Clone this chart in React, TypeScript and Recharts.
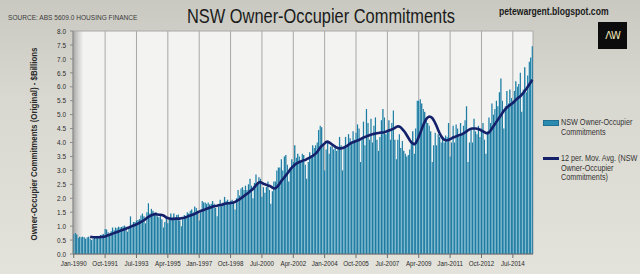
import React from "react";
import {
  ComposedChart,
  Bar,
  Line,
  XAxis,
  YAxis,
  CartesianGrid,
} from "recharts";

// NSW owner-occupier commitments, $bn, monthly Jan-1990 .. Aug-2015
const COMMITMENTS: number[] = [
  0.72, 0.75, 0.7, 0.58, 0.62, 0.6, 0.62, 0.6, 0.55, 0.6, 0.62, 0.55, // 1990
  0.5, 0.55, 0.62, 0.58, 0.65, 0.6, 0.68, 0.7, 0.72, 0.9, 0.88, 0.78, // 1991
  0.65, 0.82, 0.95, 0.85, 0.95, 0.92, 0.98, 0.95, 0.97, 1.0, 1.02, 0.98, // 1992
  0.8, 0.95, 1.35, 1.05, 1.15, 1.15, 1.2, 1.22, 1.25, 1.38, 1.45, 1.35, // 1993
  1.1, 1.5, 1.82, 1.45, 1.62, 1.55, 1.45, 1.5, 1.35, 1.32, 1.4, 1.25, // 1994
  0.95, 1.15, 1.3, 1.1, 1.3, 1.45, 1.25, 1.45, 1.25, 1.4, 1.42, 1.2, // 1995
  1.0, 1.25, 1.4, 1.35, 1.5, 1.45, 1.55, 1.6, 1.5, 1.7, 1.65, 1.55, // 1996
  1.2, 1.5, 1.9, 1.85, 1.85, 1.8, 1.85, 1.78, 1.8, 1.9, 1.8, 1.65, // 1997
  1.35, 1.7, 1.95, 1.75, 1.85, 2.05, 1.9, 1.95, 1.85, 1.9, 1.95, 1.85, // 1998
  1.6, 2.0, 2.3, 2.1, 2.35, 2.4, 2.3, 2.45, 2.3, 2.5, 2.7, 2.45, // 1999
  2.0, 2.55, 2.85, 2.5, 2.75, 2.7, 2.05, 2.4, 2.2, 2.4, 2.6, 2.3, // 2000
  1.8, 2.25, 2.6, 2.6, 3.0, 3.1, 3.1, 3.4, 3.0, 3.5, 3.55, 3.2, // 2001
  2.6, 3.1, 3.4, 3.3, 3.9, 3.45, 3.6, 3.5, 3.3, 3.6, 3.55, 3.2, // 2002
  2.7, 3.3, 3.65, 3.5, 3.9, 3.8, 3.9, 4.0, 4.45, 4.6, 4.55, 3.9, // 2003
  3.0, 3.75, 4.05, 3.6, 3.85, 3.9, 3.75, 3.9, 3.7, 3.8, 4.2, 3.9, // 2004
  3.0, 3.8, 4.2, 3.85, 4.3, 4.15, 4.0, 4.4, 4.1, 4.35, 4.65, 4.5, // 2005
  3.3, 4.2, 4.75, 3.9, 5.2, 4.7, 4.1, 4.85, 4.0, 4.6, 4.9, 4.1, // 2006
  3.7, 4.2, 4.8, 5.2, 4.9, 4.3, 4.4, 4.8, 4.1, 4.7, 5.15, 4.1, // 2007
  3.4, 4.1, 4.3, 3.8, 4.05, 3.7, 3.6, 3.5, 3.55, 3.75, 4.0, 4.4, // 2008
  3.6, 4.5, 5.5, 5.5, 5.55, 5.4, 5.2, 5.1, 4.8, 4.7, 4.6, 4.4, // 2009
  3.3, 3.9, 4.35, 3.9, 4.3, 4.2, 4.0, 4.2, 4.0, 4.25, 4.2, 4.7, // 2010
  3.5, 4.0, 4.6, 4.0, 4.65, 4.5, 4.2, 4.7, 4.3, 4.6, 4.8, 5.3, // 2011
  3.3, 4.0, 4.45, 4.0, 4.85, 4.4, 4.3, 4.6, 4.2, 4.5, 4.7, 4.1, // 2012
  3.6, 4.4, 4.9, 4.7, 5.4, 5.0, 5.2, 5.5, 5.3, 5.8, 6.3, 5.5, // 2013
  4.5, 5.3, 5.85, 5.4, 5.9, 5.6, 5.5, 5.85, 6.2, 6.0, 6.1, 6.5, // 2014
  5.1, 5.9, 6.7, 5.8, 6.4, 6.9, 7.05, 7.45, // 2015
];

// 12 period moving average (starts Dec-1990)
const MOVING_AVG: (number | null)[] = [
  null, null, null, null, null, null, null, null, null, null, null, 0.62, // 1990
  0.61, 0.6, 0.6, 0.6, 0.6, 0.6, 0.61, 0.61, 0.62, 0.63, 0.65, 0.67, // 1991
  0.69, 0.71, 0.73, 0.75, 0.77, 0.79, 0.81, 0.83, 0.85, 0.87, 0.89, 0.91, // 1992
  0.93, 0.95, 0.98, 1.0, 1.02, 1.04, 1.07, 1.09, 1.12, 1.15, 1.18, 1.21, // 1993
  1.25, 1.29, 1.33, 1.36, 1.39, 1.41, 1.43, 1.43, 1.42, 1.41, 1.41, 1.4, // 1994
  1.38, 1.35, 1.31, 1.29, 1.27, 1.26, 1.26, 1.26, 1.27, 1.27, 1.27, 1.27, // 1995
  1.28, 1.29, 1.3, 1.32, 1.34, 1.36, 1.38, 1.4, 1.42, 1.44, 1.47, 1.5, // 1996
  1.52, 1.54, 1.56, 1.58, 1.6, 1.62, 1.64, 1.66, 1.68, 1.7, 1.71, 1.72, // 1997
  1.73, 1.75, 1.76, 1.77, 1.78, 1.8, 1.81, 1.82, 1.82, 1.83, 1.84, 1.85, // 1998
  1.87, 1.9, 1.93, 1.96, 2.0, 2.04, 2.08, 2.12, 2.16, 2.2, 2.25, 2.29, // 1999
  2.33, 2.4, 2.46, 2.52, 2.57, 2.58, 2.55, 2.52, 2.5, 2.48, 2.46, 2.45, // 2000
  2.42, 2.38, 2.35, 2.36, 2.4, 2.46, 2.54, 2.62, 2.68, 2.75, 2.82, 2.89, // 2001
  2.96, 3.04, 3.1, 3.15, 3.2, 3.24, 3.27, 3.3, 3.32, 3.34, 3.36, 3.37, // 2002
  3.4, 3.43, 3.46, 3.49, 3.52, 3.56, 3.6, 3.66, 3.74, 3.82, 3.88, 3.92, // 2003
  3.97, 4.02, 4.03, 4.0, 3.97, 3.93, 3.89, 3.85, 3.82, 3.8, 3.79, 3.79, // 2004
  3.8, 3.82, 3.85, 3.88, 3.92, 3.96, 3.99, 4.01, 4.03, 4.05, 4.07, 4.09, // 2005
  4.12, 4.15, 4.18, 4.2, 4.22, 4.24, 4.26, 4.28, 4.3, 4.31, 4.32, 4.33, // 2006
  4.34, 4.35, 4.36, 4.36, 4.37, 4.39, 4.41, 4.43, 4.45, 4.47, 4.49, 4.52, // 2007
  4.56, 4.58, 4.57, 4.54, 4.48, 4.42, 4.35, 4.26, 4.17, 4.08, 4.01, 3.97, // 2008
  3.94, 3.98, 4.08, 4.2, 4.34, 4.48, 4.62, 4.74, 4.84, 4.9, 4.93, 4.92, // 2009
  4.88, 4.8, 4.7, 4.58, 4.45, 4.33, 4.23, 4.15, 4.1, 4.08, 4.08, 4.09, // 2010
  4.12, 4.15, 4.18, 4.2, 4.22, 4.24, 4.26, 4.28, 4.3, 4.33, 4.36, 4.4, // 2011
  4.44, 4.47, 4.49, 4.5, 4.5, 4.5, 4.49, 4.48, 4.46, 4.43, 4.4, 4.37, // 2012
  4.34, 4.33, 4.36, 4.42, 4.5, 4.58, 4.66, 4.74, 4.82, 4.9, 4.98, 5.06, // 2013
  5.14, 5.2, 5.26, 5.3, 5.34, 5.38, 5.42, 5.47, 5.53, 5.58, 5.62, 5.66, // 2014
  5.72, 5.78, 5.85, 5.92, 6.0, 6.08, 6.16, 6.25, // 2015
];

const MONTH_NAMES = ["Jan", "Feb", "Mar", "Apr", "May", "Jun", "Jul", "Aug", "Sep", "Oct", "Nov", "Dec"];
const FIRST_YEAR = 1990;
const Y_TICKS = [0, 0.5, 1, 1.5, 2, 2.5, 3, 3.5, 4, 4.5, 5, 5.5, 6, 6.5, 7, 7.5, 8];

const data = COMMITMENTS.map((v, i) => ({
  month: `${MONTH_NAMES[i % 12]}-${FIRST_YEAR + Math.floor(i / 12)}`,
  value: v,
  ma: MOVING_AVG[i],
}));

// no narrow font installed, so squeeze Liberation Sans horizontally
const FONT = "'Liberation Sans', Arial, sans-serif";
const SQUEEZE = 0.82;
const LINE_COLOR = "#14216a";

function XTick({ x, y, payload }: any) {
  return (
    <g transform={`translate(${x},${y}) scale(${SQUEEZE},1)`}>
      <text x={0} y={0} dy={6} textAnchor="middle" fontSize={7.6} fill="#2a2a2a" fontFamily={FONT}>
        {payload.value}
      </text>
    </g>
  );
}

function YTick({ x, y, payload }: any) {
  return (
    <g transform={`translate(${x},${y}) scale(${SQUEEZE},1)`}>
      <text x={0} y={0} dy={2.7} textAnchor="end" fontSize={7.8} fill="#2a2a2a" fontFamily={FONT}>
        {Number(payload.value).toFixed(1)}
      </text>
    </g>
  );
}

const squeezed = (extra: React.CSSProperties): React.CSSProperties => ({
  position: "absolute",
  whiteSpace: "nowrap",
  transform: `scaleX(${SQUEEZE})`,
  transformOrigin: "left top",
  ...extra,
});

export default function App() {
  return (
    <div
      style={{
        position: "absolute",
        left: 0,
        top: 0,
        width: 640,
        height: 274,
        overflow: "hidden",
        background: "linear-gradient(180deg, #c9c9c1 0%, #d9d8d0 35%, #e4e3db 100%)",
        fontFamily: FONT,
      }}
    >
      <div style={squeezed({ left: 8, top: 13, fontSize: 8, color: "#3a3a3a" })}>
        SOURCE: ABS 5609.0 HOUSING FINANCE
      </div>
      <div style={squeezed({ left: 187, top: 5, fontSize: 20, color: "#1a1a1a" })}>
        NSW Owner-Occupier Commitments
      </div>
      <div style={squeezed({ left: 499, top: 5, fontSize: 10.5, fontWeight: "bold", color: "#1a1a1a" })}>
        petewargent.blogspot.com
      </div>
      <div
        style={{
          position: "absolute",
          left: 598,
          top: 22,
          width: 29,
          height: 27,
          background: "#0c0c0c",
          color: "#efe6b8",
          fontFamily: "'DejaVu Sans', sans-serif",
          fontSize: 10,
          lineHeight: "27px",
          textAlign: "center",
          letterSpacing: -1,
        }}
      >
        ΛW
      </div>

      <div
        style={{
          position: "absolute",
          left: 33,
          top: 144,
          transform: `translate(-50%, -50%) rotate(-90deg) scaleX(${SQUEEZE})`,
          whiteSpace: "nowrap",
          fontSize: 9.6,
          fontWeight: "bold",
          color: "#2a2a2a",
        }}
      >
        Owner-Occupier Commitments (Original) - $Billions
      </div>

      <ComposedChart
        width={640}
        height={274}
        data={data}
        margin={{ top: 31, right: 107, bottom: 6, left: 0 }}
        barCategoryGap={0}
        style={{ position: "absolute", left: 0, top: 0 }}
      >
        <defs>
          <linearGradient id="plotBg" x1="0" y1="0" x2="1" y2="0">
            <stop offset="0" stopColor="#a9a9a7" />
            <stop offset="0.012" stopColor="#d4d4d2" />
            <stop offset="0.022" stopColor="#f3f3f1" />
            <stop offset="1" stopColor="#f3f3f1" />
          </linearGradient>
          <linearGradient id="barFill" x1="0" y1="0" x2="1" y2="0">
            <stop offset="0" stopColor="#5fb8d8" />
            <stop offset="0.35" stopColor="#2484aa" />
            <stop offset="1" stopColor="#17698f" />
          </linearGradient>
        </defs>
        <CartesianGrid stroke="#a8a8a8" fill="url(#plotBg)" />
        <XAxis
          dataKey="month"
          interval={20}
          height={14}
          tickSize={4}
          tickMargin={2}
          tick={<XTick />}
          axisLine={{ stroke: "#6e6e6e" }}
          tickLine={{ stroke: "#6e6e6e" }}
        />
        <YAxis
          yAxisId="left"
          width={73}
          domain={[0, 8]}
          ticks={Y_TICKS}
          interval={0}
          tickSize={3}
          tickMargin={4}
          tick={<YTick />}
          axisLine={{ stroke: "#8a8a8a" }}
          tickLine={{ stroke: "#8a8a8a" }}
        />
        <YAxis
          yAxisId="right"
          orientation="right"
          width={0}
          domain={[0, 8]}
          tick={false}
          tickLine={false}
          axisLine={{ stroke: "#555555" }}
        />
        <Bar
          yAxisId="left"
          dataKey="value"
          fill="url(#barFill)"
          barSize={1.5}
          isAnimationActive={false}
        />
        <Line
          yAxisId="left"
          type="linear"
          dataKey="ma"
          stroke={LINE_COLOR}
          strokeWidth={2.6}
          dot={false}
          activeDot={false}
          isAnimationActive={false}
        />
      </ComposedChart>

      {/* legend */}
      <div style={{ position: "absolute", left: 543, top: 118, fontSize: 8.8, color: "#333", lineHeight: "9.5px" }}>
        <div style={{ display: "flex" }}>
          <span style={{ width: 16, height: 6, marginTop: 2, background: "#2b8ab0", border: "1px solid #1f6f92", boxSizing: "border-box", flexShrink: 0 }} />
          <span style={squeezed({ position: "relative", marginLeft: 2 })}>NSW Owner-Occupier<br />Commitments</span>
        </div>
        <div style={{ display: "flex", marginTop: 17 }}>
          <span style={{ width: 16, height: 3, marginTop: 3, background: LINE_COLOR, flexShrink: 0 }} />
          <span style={squeezed({ position: "relative", marginLeft: 2 })}>
            12 per. Mov. Avg. (NSW<br />Owner-Occupier<br />Commitments)
          </span>
        </div>
      </div>
    </div>
  );
}
